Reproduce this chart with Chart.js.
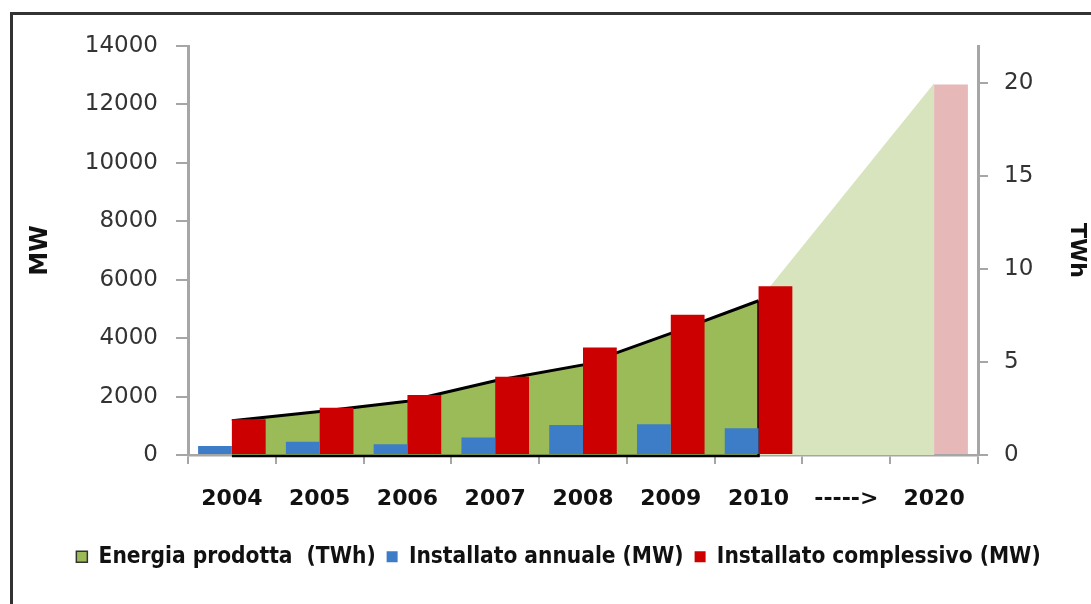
<!DOCTYPE html>
<html>
<head>
<meta charset="utf-8">
<title>Eolico in Italia</title>
<script src="https://cdn.jsdelivr.net/npm/chart.js@4.4.1/dist/chart.umd.min.js"></script>
<style>
  html, body { margin: 0; padding: 0; background: #fff; overflow: hidden; }
  #frame { position: absolute; left: 10px; top: 12px; width: 1200px; height: 700px; border: 3px solid #333; }
  #wrap { position: absolute; left: 0; top: 0; width: 1091px; height: 604px; }
</style>
</head>
<body>
<div id="frame"></div>
<div id="wrap"><canvas id="windChart"></canvas></div>
<script>
// categories on the x axis
const years = ['2004', '2005', '2006', '2007', '2008', '2009', '2010', '----->', '2020'];

// energy produced, TWh (right axis)
const energiaTWh = [1.85, 2.35, 2.9, 4.0, 4.85, 6.55, 8.3, null, 20];
// yearly installed power, MW
const annualeMW = [310, 460, 370, 600, 1030, 1060, 920, null, null];
// cumulative installed power, MW (2020 = target)
const complessivoMW = [1230, 1620, 2060, 2680, 3680, 4800, 5780, null, 12680];

// tick labels
const mwTicks = [0, 2000, 4000, 6000, 8000, 10000, 12000, 14000];
const twhTicks = [0, 5, 10, 15, 20];

// last year with measured data; after it the values are a projection
const lastMeasured = years.indexOf('2010');

const axisGray = '#a6a6a6';
const green = '#9bbb59';
const greenLight = '#d7e4bd';
const red = '#cc0000';
const pink = '#e6b9b8';
const blue = '#3d7cc6';

Chart.defaults.font.family = 'DejaVu Sans';
Chart.defaults.color = '#222';

// black outline along the bottom and right edge of the measured part of the area
const areaOutline = {
  id: 'areaOutline',
  afterDatasetDraw(chart, args) {
    if (args.index !== 0) return;
    const pts = args.meta.data;
    const y0 = chart.scales.yTWh.getPixelForValue(0);
    const first = pts[0], last = pts[lastMeasured];
    const ctx = chart.ctx;
    ctx.save();
    ctx.strokeStyle = '#000';
    ctx.lineWidth = 2.5;
    ctx.beginPath();
    ctx.moveTo(first.x, y0 + 1);
    ctx.lineTo(last.x, y0 + 1);
    ctx.lineTo(last.x, last.y);
    ctx.stroke();
    ctx.restore();
  }
};

const ctx = document.getElementById('windChart').getContext('2d');
const windChart = new Chart(ctx, {
  type: 'bar',
  data: {
    labels: years,
    datasets: [
      {
        type: 'line',
        label: 'Energia prodotta  (TWh)',
        data: energiaTWh,
        yAxisID: 'yTWh',
        order: 2,
        fill: 'origin',
        spanGaps: true,
        tension: 0,
        pointRadius: 0,
        borderWidth: 3,
        borderColor: '#000',
        backgroundColor: green,
        segment: {
          borderColor: c => c.p0DataIndex >= lastMeasured ? 'rgba(0,0,0,0)' : '#000',
          backgroundColor: c => c.p0DataIndex >= lastMeasured ? greenLight : green
        }
      },
      {
        label: 'Installato annuale (MW)',
        data: annualeMW,
        yAxisID: 'yMW',
        order: 1,
        backgroundColor: blue,
        categoryPercentage: 0.77,
        barPercentage: 1.0
      },
      {
        label: 'Installato complessivo (MW)',
        data: complessivoMW,
        yAxisID: 'yMW',
        order: 1,
        backgroundColor: complessivoMW.map((v, i) => i > lastMeasured ? pink : red),
        categoryPercentage: 0.77,
        barPercentage: 1.0
      }
    ]
  },
  options: {
    responsive: true,
    maintainAspectRatio: false,
    animation: false,
    layout: { padding: { left: 26, right: 0, top: 46, bottom: 26 } },
    scales: {
      x: {
        grid: { drawOnChartArea: false, offset: true, color: axisGray, lineWidth: 2, tickLength: 9 },
        border: { color: axisGray, width: 2.5 },
        ticks: { font: { size: 22, weight: 'bold' }, color: '#111', padding: 22, maxRotation: 0, autoSkip: false }
      },
      yMW: {
        position: 'left',
        min: 0,
        max: 14000,
        afterBuildTicks: s => { s.ticks = mwTicks.map(v => ({ value: v })); },
        afterFit: s => { s.width = 162; },
        grid: { drawOnChartArea: false, color: axisGray, lineWidth: 2, tickLength: 12 },
        border: { color: axisGray, width: 3 },
        ticks: { font: { size: 23 }, color: '#333', padding: 18, callback: v => String(v) },
        title: { display: true, text: 'MW', font: { size: 24, weight: 'bold' }, color: '#111', padding: 0 }
      },
      yTWh: {
        position: 'right',
        min: 0,
        max: 22,
        afterBuildTicks: s => { s.ticks = twhTicks.map(v => ({ value: v })); },
        afterFit: s => { s.width = 113; },
        grid: { drawOnChartArea: false, color: axisGray, lineWidth: 2, tickLength: 10 },
        border: { color: axisGray, width: 3 },
        ticks: { font: { size: 23 }, color: '#333', padding: 16, callback: v => String(v) },
        title: { display: true, text: 'TWh', font: { size: 22, weight: 'bold' }, color: '#111', padding: 1 }
      }
    },
    plugins: {
      tooltip: { enabled: false },
      legend: {
        position: 'bottom',
        labels: {
          boxWidth: 11,
          boxHeight: 11,
          padding: 11,
          color: '#111',
          font: { family: 'DejaVu Sans Condensed', size: 22.5, weight: 'bold' },
          sort: (a, b) => a.datasetIndex - b.datasetIndex,
          generateLabels(chart) {
            const items = Chart.defaults.plugins.legend.labels.generateLabels(chart);
            const fills = [green, blue, red];
            items.forEach(it => {
              it.fillStyle = fills[it.datasetIndex];
              it.strokeStyle = it.datasetIndex === 0 ? '#333' : fills[it.datasetIndex];
              it.lineWidth = it.datasetIndex === 0 ? 1.5 : 0;
            });
            return items;
          }
        }
      }
    }
  },
  plugins: [areaOutline]
});
</script>
</body>
</html>
